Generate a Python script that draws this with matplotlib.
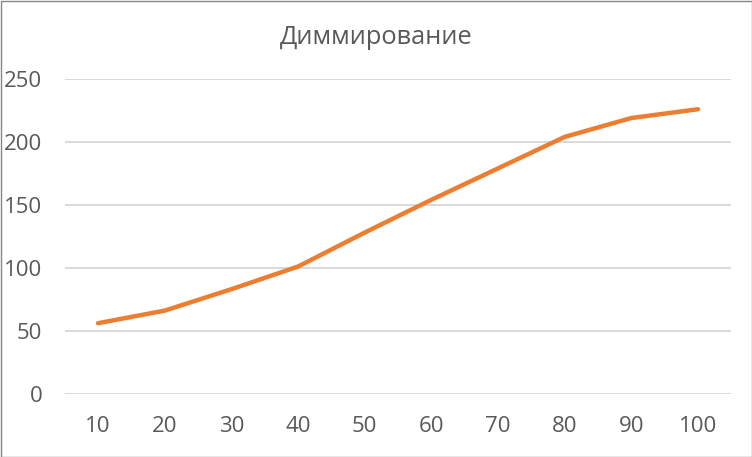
import matplotlib
matplotlib.use("Agg")
import matplotlib.pyplot as plt
from matplotlib.patches import Rectangle

categories = ["10", "20", "30", "40", "50", "60", "70", "80", "90", "100"]
values = [56, 66, 83, 101, 128, 154, 179, 204, 219, 226]
y_ticks = [0, 50, 100, 150, 200, 250]
title = "Диммирование"

plt.rcParams['font.family'] = ['Open Sans', 'DejaVu Sans']

W, H = 752, 457
fig = plt.figure(figsize=(W / 100, H / 100), dpi=100)
ax = fig.add_axes([64.7 / W, 1 - 393.7 / H, (731.3 - 64.7) / W, (393.7 - 79) / H])

x = list(range(len(categories)))
ax.plot(x, values, color="#ED7D31", linewidth=3.2, solid_capstyle="round",
        solid_joinstyle="round", zorder=3)

ax.set_xlim(-0.5, len(categories) - 0.5)
ax.set_ylim(0, 250)
ax.set_yticks(y_ticks)
ax.set_xticks(x)
ax.set_xticklabels(categories)
ax.yaxis.grid(True, color="#D9D9D9", linewidth=1.4)
ax.set_axisbelow(True)
for s in ax.spines.values():
    s.set_visible(False)
ax.tick_params(axis="both", length=0, labelsize=16, colors="#595959")
ax.tick_params(axis="y", pad=16)
ax.tick_params(axis="x", pad=16)

fig.text(0.5, 1 - 44 / H, title, ha="center", va="baseline", fontsize=18.3, color="#595959")

fig.patches.append(Rectangle((0.5 / W, 0.5 / H), 1 - 1 / W, 1 - 1 / H, transform=fig.transFigure,
                             fill=False, edgecolor="#868686", linewidth=1))

fig.savefig("out.png", dpi=100)
